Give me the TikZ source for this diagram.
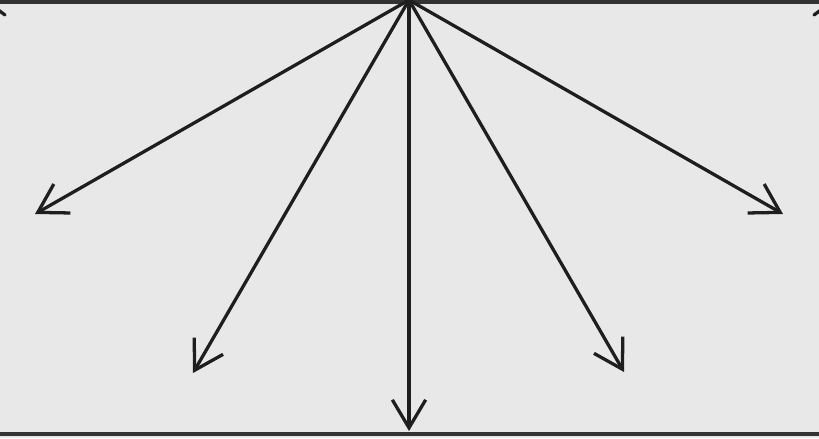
\documentclass[tikz,border=0pt]{standalone}
\usepackage{tikz}
\usetikzlibrary{arrows.meta, calc}

\definecolor{paper}{HTML}{E8E8E8}
\definecolor{ink}{HTML}{1E1E1E}
\definecolor{rim}{HTML}{333333}

\begin{document}
\begin{tikzpicture}[
        x=0.03cm, y=-0.03cm,
        rimline/.style={fill=rim, draw=none},
        ray/.style={-{Straight Barb[length=8.4mm, width=10mm, line width=2.8pt]}, line width=2.8pt, draw=ink, line cap=round},
        stub/.style={line width=2.8pt, draw=ink, line cap=round}
    ]
        \fill[paper] (0,0) rectangle (819,438);
        \useasboundingbox (0,0) rectangle (819,438);
        \begin{scope}
        \clip (0,0) rectangle (819,438);
        \fill[rimline] (0,0) rectangle (819,3.5);
        \fill[rimline] (0,432) rectangle (819,435.5);
        \coordinate (hub) at (409,0);
        \coordinate (west) at (35,214);
        \coordinate (southwest) at (193,373);
        \coordinate (south) at (409,431);
        \coordinate (southeast) at (624,372);
        \coordinate (east) at (783,214);
        \coordinate (stubL) at (-3,9);
        \coordinate (stubR) at (822,9);
        \draw[ray] (hub) -- (west);
        \draw[ray] (hub) -- (southwest);
        \draw[ray] (hub) -- (south);
        \draw[ray] (hub) -- (southeast);
        \draw[ray] (hub) -- (east);
        \draw[stub] (stubL) -- ++(8,6);
        \draw[stub] (stubR) -- ++(-8,6);
        \end{scope}
    \end{tikzpicture}
\end{document}
